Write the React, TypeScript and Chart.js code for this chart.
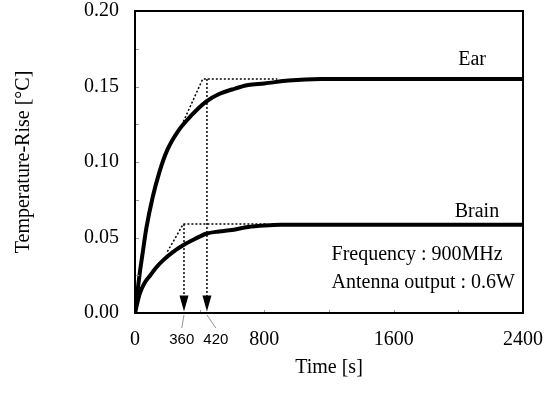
import React, { useEffect, useRef } from 'react';
import { Chart, registerables } from 'chart.js';

Chart.register(...registerables);

// ---- data ----
const earTime = [0, 15, 30, 45, 70, 110, 150, 200, 270, 350, 440, 520, 600, 700, 800, 950, 1150, 1400, 2400];
const earRise = [0, 0.014, 0.027, 0.038, 0.056, 0.077, 0.093, 0.108, 0.121, 0.131, 0.14, 0.145, 0.148, 0.151, 0.152, 0.154, 0.155, 0.155, 0.155];
const brainTime = [0, 15, 30, 60, 95, 130, 175, 230, 300, 370, 440, 520, 600, 700, 800, 900, 1000, 2400];
const brainRise = [0, 0.007, 0.013, 0.02, 0.025, 0.03, 0.035, 0.04, 0.045, 0.049, 0.0525, 0.054, 0.055, 0.057, 0.058, 0.0585, 0.0585, 0.0585];

const earGuideTime = [299, 419, 880];
const earGuideRise = [0.1267, 0.155, 0.155];
const brainGuideTime = [200, 299, 814];
const brainGuideRise = [0.0406, 0.0589, 0.0589];

const dropTime = [303, 445];
const dropTop = [0.0589, 0.155];
const dropLabels = ['360', '420'];
const dropLabelTime = [289, 500];

const curveLabels = ['Ear', 'Brain'];
const curveLabelTime = [2085, 2115];
const curveLabelRise = [0.1675, 0.067];

const noteLines = ['Frequency : 900MHz', 'Antenna output : 0.6W'];
const noteTime = 1216;
const noteRise = [0.0384, 0.0199];

const xTicks = [0, 800, 1600, 2400];
const yTicks = [0, 0.05, 0.1, 0.15, 0.2];

const SERIF = '"Liberation Serif", "Times New Roman", serif';
const SANS = '"Liberation Sans", Arial, sans-serif';
const FS = 20;

const pts = (t: number[], r: number[]) => t.map((x, i) => ({ x, y: r[i] }));

const decorPlugin = {
  id: 'decor',
  beforeDraw(chart: any) {
    const { ctx, width, height } = chart;
    ctx.save();
    ctx.fillStyle = '#fff';
    ctx.fillRect(0, 0, width, height);
    ctx.restore();
  },
  afterDatasetsDraw(chart: any) {
    const { ctx, chartArea: a, scales } = chart;
    const xs = scales.x;
    const ys = scales.y;
    ctx.save();
    // minor inward ticks
    ctx.strokeStyle = '#999';
    ctx.lineWidth = 1;
    for (let v = 0.025; v < 0.2; v += 0.025) {
      const y = Math.round(ys.getPixelForValue(v)) + 0.5;
      ctx.beginPath();
      ctx.moveTo(a.left, y);
      ctx.lineTo(a.left + 4, y);
      ctx.stroke();
    }
    for (let v = 400; v < 2400; v += 400) {
      const x = Math.round(xs.getPixelForValue(v)) + 0.5;
      ctx.beginPath();
      ctx.moveTo(x, a.bottom);
      ctx.lineTo(x, a.bottom - 3);
      ctx.stroke();
    }
    // drop lines and arrows
    dropTime.forEach((t, i) => {
      const x = xs.getPixelForValue(t);
      const yTop = ys.getPixelForValue(dropTop[i]);
      const yTip = ys.getPixelForValue(0) - 1.5;
      ctx.strokeStyle = '#000';
      ctx.lineWidth = 1.5;
      ctx.setLineDash([2, 2]);
      ctx.beginPath();
      ctx.moveTo(x, yTop);
      ctx.lineTo(x, yTip - 14);
      ctx.stroke();
      ctx.setLineDash([]);
      ctx.fillStyle = '#000';
      ctx.beginPath();
      ctx.moveTo(x, yTip);
      ctx.lineTo(x - 4.5, yTip - 16);
      ctx.lineTo(x + 4.5, yTip - 16);
      ctx.closePath();
      ctx.fill();
      // leader line + label
      const lx = xs.getPixelForValue(dropLabelTime[i]);
      ctx.strokeStyle = '#777';
      ctx.lineWidth = 0.8;
      ctx.beginPath();
      ctx.moveTo(x, a.bottom + 2);
      ctx.lineTo(lx, a.bottom + 15);
      ctx.stroke();
      ctx.fillStyle = '#000';
      ctx.font = `15px ${SANS}`;
      ctx.textAlign = 'center';
      ctx.textBaseline = 'middle';
      ctx.fillText(dropLabels[i], lx, a.bottom + 27);
    });
    // curve labels
    ctx.font = `${FS}px ${SERIF}`;
    ctx.fillStyle = '#000';
    ctx.textAlign = 'center';
    ctx.textBaseline = 'middle';
    curveLabels.forEach((s, i) => {
      ctx.fillText(s, xs.getPixelForValue(curveLabelTime[i]), ys.getPixelForValue(curveLabelRise[i]));
    });
    ctx.textAlign = 'left';
    noteLines.forEach((s, i) => {
      ctx.fillText(s, xs.getPixelForValue(noteTime), ys.getPixelForValue(noteRise[i]));
    });
    // frame
    ctx.strokeStyle = '#000';
    ctx.lineWidth = 2;
    ctx.strokeRect(a.left, a.top, a.right - a.left, a.bottom - a.top);
    ctx.restore();
  },
};

export default function App() {
  const ref = useRef<HTMLCanvasElement>(null);
  useEffect(() => {
    if (!ref.current) return;
    const dotted = { borderColor: '#000', borderWidth: 1.5, borderDash: [2, 2], pointRadius: 0, tension: 0, fill: false };
    const chart = new Chart(ref.current, {
      type: 'line',
      data: {
        datasets: [
          { label: 'Ear', data: pts(earTime, earRise), borderColor: '#000', borderWidth: 4, pointRadius: 0, cubicInterpolationMode: 'monotone', fill: false },
          { label: 'Brain', data: pts(brainTime, brainRise), borderColor: '#000', borderWidth: 4, pointRadius: 0, cubicInterpolationMode: 'monotone', fill: false },
          { label: 'Ear guide', data: pts(earGuideTime, earGuideRise), ...dotted },
          { label: 'Brain guide', data: pts(brainGuideTime, brainGuideRise), ...dotted },
        ] as any,
      },
      options: {
        animation: false,
        responsive: false,
        devicePixelRatio: 1,
        layout: { padding: { top: 11, right: 31, left: 0, bottom: 0 } },
        plugins: { legend: { display: false }, tooltip: { enabled: false } },
        scales: {
          x: {
            type: 'linear',
            min: 0,
            max: 2400,
            afterBuildTicks: (s: any) => { s.ticks = xTicks.map((v) => ({ value: v })); },
            ticks: { color: '#000', font: { family: SERIF, size: FS }, padding: 15, maxRotation: 0, autoSkip: false, callback: (v: any) => String(v) },
            grid: { display: false, drawTicks: false },
            border: { display: false },
            title: { display: true, text: 'Time [s]', color: '#000', font: { family: SERIF, size: FS }, padding: { top: 0, bottom: 13 } },
            afterFit: (s: any) => { s.height = 80; s.paddingLeft = 0; s.paddingRight = 0; },
          },
          y: {
            type: 'linear',
            min: 0,
            max: 0.2,
            afterBuildTicks: (s: any) => { s.ticks = yTicks.map((v) => ({ value: v })); },
            ticks: { color: '#000', font: { family: SERIF, size: FS }, padding: 16, autoSkip: false, callback: (v: any) => Number(v).toFixed(2) },
            grid: { display: false, drawTicks: false },
            border: { display: false },
            title: { display: true, text: 'Temperature-Rise [°C]', color: '#000', font: { family: SERIF, size: FS }, padding: { top: 12, bottom: 0 } },
            afterFit: (s: any) => { s.width = 135; s.paddingTop = 0; s.paddingBottom = 0; },
          },
        },
      } as any,
      plugins: [decorPlugin],
    });
    return () => chart.destroy();
  }, []);
  return (
    <div style={{ position: 'fixed', left: 0, top: 0, width: 554, height: 393, background: '#fff' }}>
      <canvas ref={ref} width={554} height={393} style={{ display: 'block' }} />
    </div>
  );
}
